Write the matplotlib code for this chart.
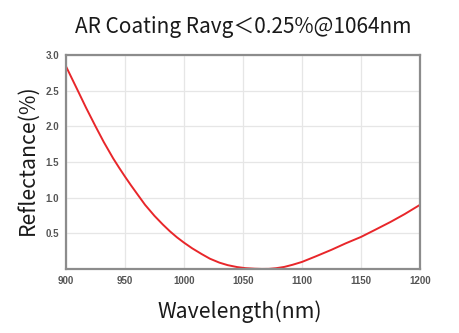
import matplotlib
matplotlib.use("Agg")
import matplotlib.pyplot as plt

wavelength = [900, 905, 910, 917, 925, 932, 940, 945, 950, 955, 960, 967, 975, 982,
              988, 994, 1000, 1007, 1015, 1022, 1030, 1037, 1045, 1052, 1060, 1066,
              1072, 1078, 1085, 1092, 1100, 1112, 1125, 1137, 1150, 1162, 1175, 1187, 1200]
reflectance = [2.84, 2.67, 2.50, 2.26, 2.00, 1.78, 1.55, 1.42, 1.295, 1.175, 1.06, 0.90,
               0.745, 0.625, 0.53, 0.445, 0.37, 0.29, 0.21, 0.145, 0.09, 0.055, 0.028, 0.013,
               0.005, 0.002, 0.003, 0.012, 0.03, 0.06, 0.10, 0.18, 0.27, 0.36, 0.45, 0.55,
               0.66, 0.77, 0.90]
x_ticks = [900, 950, 1000, 1050, 1100, 1150, 1200]
y_ticks = [0.5, 1.0, 1.5, 2.0, 2.5, 3.0]

plt.rcParams['font.family'] = ['Noto Sans CJK SC', 'DejaVu Sans']

fig = plt.figure(figsize=(4.59, 3.33), dpi=100)
ax = fig.add_axes([0.1438, 0.192, 0.915 - 0.1438, 0.835 - 0.192])

ax.plot(wavelength, reflectance, color='#e8262a', lw=1.4, solid_capstyle='round',
        solid_joinstyle='round')
ax.set_xlim(900, 1200)
ax.set_ylim(0, 3.0)
ax.set_xticks(x_ticks)
ax.set_yticks(y_ticks)
ax.set_xticklabels([str(v) for v in x_ticks])
ax.set_yticklabels([f"{v:.1f}" for v in y_ticks])
ax.grid(True, color='#e6e6e6', lw=0.9)
ax.set_axisbelow(True)
ax.tick_params(length=0, pad=5, labelsize=7, colors='#555555')
for lab in ax.get_xticklabels() + ax.get_yticklabels():
    lab.set_family(['Liberation Sans', 'DejaVu Sans'])
    lab.set_fontweight('bold')
for s in ax.spines.values():
    s.set_color('#8c8c8c')
    s.set_linewidth(1.6)

fig.text(0.530, 0.919, 'AR Coating Ravg＜0.25%@1064nm', ha='center', va='center',
         fontsize=15, color='#1a1a1a', fontweight='medium')
fig.text(0.523, 0.063, 'Wavelength(nm)', ha='center', va='center',
         fontsize=15.3, color='#1a1a1a', fontweight='medium')
fig.text(0.061, 0.52, 'Reflectance(%)', ha='center', va='center', rotation=90,
         fontsize=15.3, color='#1a1a1a', fontweight='medium')

fig.savefig('out.png', dpi=100)
